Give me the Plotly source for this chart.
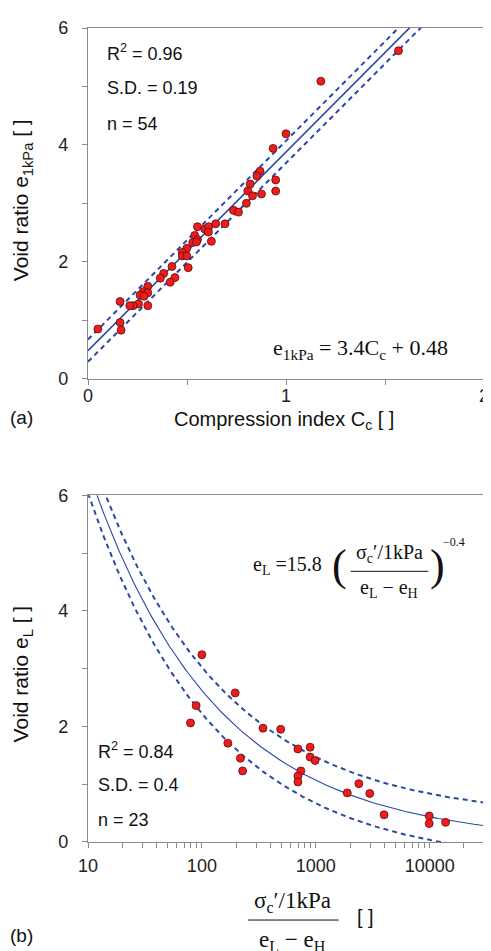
import numpy as np
import plotly.graph_objects as go
from plotly.subplots import make_subplots

# --- (a) data: compression index vs void ratio at 1 kPa
cc = [1.568, 1.176, 1.0, 0.935, 0.869, 0.853, 0.948, 0.819, 0.807, 0.948, 0.831, 0.876, 0.80,
      0.735, 0.76, 0.553, 0.59, 0.61, 0.645, 0.692, 0.608, 0.539, 0.553, 0.529, 0.548, 0.623,
      0.499, 0.476, 0.476, 0.499, 0.506, 0.424, 0.382, 0.365, 0.439, 0.415,
      0.302, 0.28, 0.263, 0.302, 0.283, 0.255, 0.228, 0.211, 0.302, 0.162, 0.162, 0.167, 0.05]
e1kpa = [5.61, 5.09, 4.19, 3.94, 3.55, 3.47, 3.40, 3.33, 3.21, 3.21, 3.13, 3.16, 3.00,
         2.88, 2.85, 2.60, 2.56, 2.60, 2.65, 2.65, 2.51, 2.45, 2.38, 2.33, 2.34, 2.35,
         2.23, 2.16, 2.10, 2.10, 1.90, 1.92, 1.80, 1.72, 1.73, 1.65,
         1.58, 1.49, 1.43, 1.47, 1.41, 1.28, 1.25, 1.25, 1.25, 1.32, 0.96, 0.83, 0.85]
fit_a_slope, fit_a_icpt, sd_a = 3.4, 0.48, 0.19

# --- (b) data: normalised preconsolidation stress vs void ratio e_L
sig = [100, 196, 89, 79.4, 169, 218, 228, 344, 492, 697, 892, 892, 986, 740, 697, 697,
       1890, 2390, 2980, 3980, 9910, 9910, 13800]
eL = [3.24, 2.58, 2.36, 2.06, 1.71, 1.45, 1.23, 1.97, 1.95, 1.61, 1.64, 1.47, 1.41, 1.23,
      1.14, 1.04, 0.85, 1.01, 0.84, 0.47, 0.45, 0.32, 0.34]
fit_b_a, fit_b_b, sd_b = 15.8, -0.39, 0.4

W, H = 491, 951
# page body has an 8px margin, so the figure is drawn 8px right/down of the window corner
PAGE = 8
ML, MT = 88 - PAGE, 18 - PAGE
PW, PH = 398, 824
MR, MB = W - ML - PW, H - MT - PH

def px(x):
    return (x - 88) / PW

def py(y):
    return (842 - y) / PH

BLUE = "#2a48a6"
RED = "#ee1c1c"
AX = "#8a8a8a"
SANS = "Liberation Sans, Arial, sans-serif"
SERIF = "Liberation Serif, Times New Roman, serif"

fig = make_subplots(rows=2, cols=1)
fig.update_layout(
    yaxis=dict(domain=[py(373), 1.0]),
    yaxis2=dict(domain=[0, py(491)]),
)

# fit lines (a)
xa = np.linspace(0, 2, 50)
for off, dash, w in [(0, "solid", 1.6), (sd_a, "5px,4px", 2), (-sd_a, "5px,4px", 2)]:
    fig.add_trace(go.Scatter(x=xa, y=fit_a_slope * xa + fit_a_icpt + off, mode="lines",
                             line=dict(color=BLUE, width=w, dash=dash), hoverinfo="skip"),
                  row=1, col=1)
fig.add_trace(go.Scatter(x=cc, y=e1kpa, mode="markers",
                         marker=dict(color=RED, size=8, line=dict(color="#5a1010", width=0.8))),
              row=1, col=1)

# fit curves (b)
xb = np.logspace(1, np.log10(30000), 200)
cb = fit_b_a * xb ** fit_b_b
for off, dash, w in [(0, "solid", 1.1), (sd_b, "5px,4px", 2), (-sd_b, "5px,4px", 2)]:
    fig.add_trace(go.Scatter(x=xb, y=cb + off, mode="lines",
                             line=dict(color=BLUE, width=w, dash=dash), hoverinfo="skip"),
                  row=2, col=1)
fig.add_trace(go.Scatter(x=sig, y=eL, mode="markers",
                         marker=dict(color=RED, size=8, line=dict(color="#5a1010", width=0.8))),
              row=2, col=1)

axcommon = dict(showline=True, linecolor=AX, linewidth=1.2, mirror=True, showgrid=False,
                zeroline=False, ticks="outside", ticklen=5, tickcolor=AX,
                tickfont=dict(family=SANS, size=18, color="#222"))

fig.update_xaxes(range=[0, 2], tickvals=[0, 0.5, 1, 1.5, 2], ticktext=["0", "", "1", "", "2"],
                 ticklabelstandoff=-4, row=1, col=1, **axcommon)
fig.update_yaxes(range=[0, 6], tickvals=[0, 1, 2, 3, 4, 5, 6],
                 ticktext=["0", "", "2", "", "4", "", "6"], ticklabelstandoff=10,
                 row=1, col=1, **axcommon)

logticks = [m * 10 ** d for d in range(1, 5) for m in range(1, 10) if m * 10 ** d <= 30000]
logtext = [str(v) if v in (10, 100, 1000, 10000) else "" for v in logticks]
fig.update_xaxes(type="log", range=[1, np.log10(30000)], tickvals=logticks, ticktext=logtext,
                 ticklabelstandoff=2, row=2, col=1, **axcommon)
fig.update_yaxes(range=[0, 6], tickvals=[0, 1, 2, 3, 4, 5, 6],
                 ticktext=["0", "", "2", "", "4", "", "6"], ticklabelstandoff=10,
                 row=2, col=1, **axcommon)

ann = []

def txt(x, y, s, size=18, fam=SANS, xanchor="left", angle=0):
    ann.append(dict(x=px(x), y=py(y), xref="paper", yref="paper", text=s, showarrow=False,
                    xanchor=xanchor, yanchor="middle", textangle=angle,
                    font=dict(family=fam, size=size, color="#111")))

# (a) texts
txt(105, 43, "R<sup>2</sup> = 0.96")
txt(105, 79, "S.D. = 0.19")
txt(105, 115, "n = 54")
txt(272, 343, "e<sub>1kPa</sub> = 3.4C<sub>c</sub> + 0.48", size=22, fam=SERIF)
txt(22, 192, "Void ratio e<sub>1kPa</sub> [ ]", size=21, xanchor="center", angle=-90)
txt(285, 415, "Compression index C<sub>c</sub> [ ]", size=20, xanchor="center")
txt(8, 412, "(a)", size=19)

# (b) texts
txt(96, 749, "R<sup>2</sup> = 0.84")
txt(96, 784, "S.D. = 0.4")
txt(96, 820, "n = 23")
txt(22, 672, "Void ratio e<sub>L</sub> [ ]", size=21, xanchor="center", angle=-90)
txt(8, 937, "(b)", size=19)

# equation (b)
txt(252, 562, "e<sub>L</sub> =15.8", size=20, fam=SERIF)
txt(331, 562, "(", size=44, fam=SERIF)
txt(391, 550, "σ<sub>c</sub>′/1kPa", size=20, fam=SERIF, xanchor="center")
txt(391, 585, "e<sub>L</sub> − e<sub>H</sub>", size=20, fam=SERIF, xanchor="center")
txt(430, 562, ")", size=44, fam=SERIF)
txt(443, 538, "−0.4", size=12, fam=SERIF)

# x-axis title (b)
txt(294, 903, "σ<sub>c</sub>′/1kPa", size=23, fam=SERIF, xanchor="center")
txt(294, 942, "e<sub>L</sub> − e<sub>H</sub>", size=23, fam=SERIF, xanchor="center")
txt(356, 918, "[ ]", size=20, fam=SANS)

shapes = [
    dict(type="line", xref="paper", yref="paper", x0=px(352), x1=px(430), y0=py(568), y1=py(568),
         line=dict(color="#111", width=1)),
    dict(type="line", xref="paper", yref="paper", x0=px(249), x1=px(340), y0=py(921), y1=py(921),
         line=dict(color="#111", width=1)),
]

fig.update_layout(width=W, height=H, margin=dict(l=ML, r=MR, t=MT, b=MB),
                  plot_bgcolor="white", paper_bgcolor="white", showlegend=False,
                  annotations=ann, shapes=shapes)

fig.write_html("out.html")
